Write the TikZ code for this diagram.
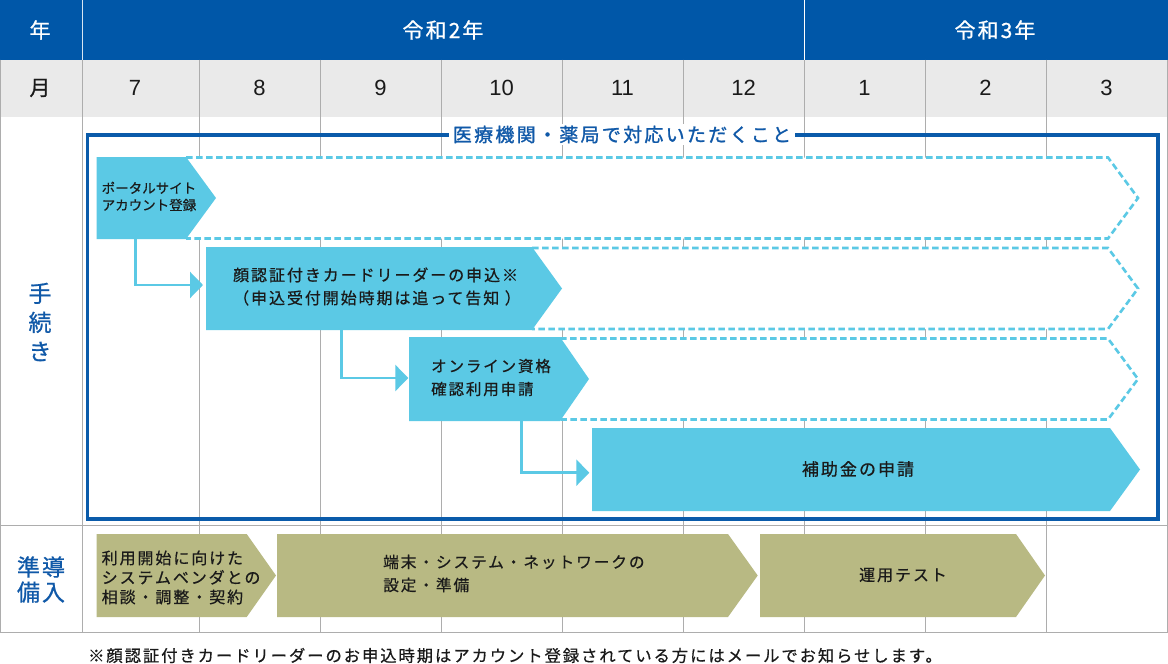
\documentclass[tikz,border=0pt]{standalone}
\usepackage{fontspec}
\setmainfont{Noto Sans CJK JP}[FakeBold=0.6]
\newfontfamily\jpls[LetterSpace=12,FakeBold=0.6]{Noto Sans CJK JP}
\newfontfamily\jphd[LetterSpace=10,FakeBold=0.8]{Noto Sans CJK JP}
\newfontfamily\jplbl[LetterSpace=12,FakeBold=1.2]{Noto Sans CJK JP}
\newfontfamily\arialf{Liberation Sans}
\usetikzlibrary{arrows.meta}
\definecolor{hdrblue}{HTML}{0057A8}
\definecolor{frameblue}{HTML}{0A5BAA}
\definecolor{cyanA}{HTML}{5BC9E5}
\definecolor{oliveA}{HTML}{B8B983}
\definecolor{monthgray}{HTML}{EAEAEA}
\definecolor{gridgray}{HTML}{ADADAD}
\definecolor{lblblue}{HTML}{1059A8}
\definecolor{txt}{HTML}{1A1A1A}
\begin{document}
\begin{tikzpicture}[x=1pt,y=-1pt,
  grid/.style={draw=gridgray,line width=1pt},
  solidarrow/.style={fill=cyanA},
  olivearrow/.style={fill=oliveA},
  dashline/.style={draw=cyanA,line width=2.6pt,dash pattern=on 6.5pt off 3.5pt},
  conn/.style={draw=cyanA,line width=2.5pt,-{Triangle[length=13pt,width=26pt]}},
  hdr/.style={text=white,inner sep=0pt,font=\jphd\fontsize{21}{24}\selectfont},
  month/.style={text=txt,inner sep=0pt,font=\arialf\fontsize{22}{24}\selectfont},
  side/.style={text=lblblue,inner sep=0pt,align=center},
  boxtxt/.style={text=txt,inner sep=0pt,align=left,anchor=west}
]
\useasboundingbox (0,0) rectangle (1168,664);
\fill[white] (0,0) rectangle (1168,664);
% header rows
\fill[hdrblue] (0,0) rectangle (1168,59.5);
\fill[monthgray] (0,59.5) rectangle (1168,117);
% grid
\foreach \x in {82,199,320,441,562,683,804,925,1046}
  \draw[grid] (\x,59.5) -- (\x,632);
\draw[grid] (0.5,59.5) -- (0.5,632);
\draw[grid] (1167.3,59.5) -- (1167.3,632);
\draw[grid] (0,525) -- (1168,525);
\draw[grid] (0,632) -- (1168,632);
\draw[white!85!hdrblue,line width=1pt] (82,0) -- (82,59.5);
\draw[white,line width=1pt] (804,0) -- (804,59.5);
% header texts
\node[hdr] (ynen) at (40,30) {年};
\node[hdr] (y2) at (443,30) {令和2年};
\node[hdr] (y3) at (995,30) {令和3年};
\node[text=txt,inner sep=0pt,font=\jphd\fontsize{21}{24}\selectfont] (mtsuki) at (40,88) {月};
\foreach \x/\m in {135/7,259.5/8,380.5/9,501.5/10,622.5/11,743.5/12,864.5/1,985.5/2,1106.5/3}
  \node[month] (m\m) at (\x,88) {\m};
% side labels
\node[side,font=\jphd\fontsize{23}{29}\selectfont] (tetsuzuki) at (40,322) {手\\続\\き};
\node[side,font=\jphd\fontsize{23}{25}\selectfont] (dounyu) at (41,579.5) {準\kern2pt導\\備\kern2pt入};
% frame
\draw[frameblue,line width=3.8pt] (87.5,135.3) rectangle (1158,519);
% dashed extensions
\fill[white] (186,157.5) -- (1108,157.5) -- (1138,198) -- (1108,238.5) -- (186,238.5) -- cycle;
\draw[dashline] (186,157.5) -- (1108,157.5) -- (1138,198) -- (1108,238.5) -- (186,238.5);
\fill[white] (532,248) -- (1108,248) -- (1138,288.5) -- (1108,329) -- (532,329) -- cycle;
\draw[dashline] (532,248) -- (1108,248) -- (1138,288.5) -- (1108,329) -- (532,329);
\fill[white] (560,338.5) -- (1108,338.5) -- (1138,379) -- (1108,419.5) -- (560,419.5) -- cycle;
\draw[dashline] (560,338.5) -- (1108,338.5) -- (1138,379) -- (1108,419.5) -- (560,419.5);
% solid arrows
\fill[solidarrow] (96.5,157) -- (186,157) -- (216,198) -- (186,239) -- (96.5,239) -- cycle;
\fill[solidarrow] (206,247) -- (532,247) -- (562,288.5) -- (532,330) -- (206,330) -- cycle;
\fill[solidarrow] (409,337) -- (560,337) -- (589,379) -- (560,421) -- (409,421) -- cycle;
\fill[solidarrow] (592,428) -- (1110,428) -- (1140,469.5) -- (1110,511) -- (592,511) -- cycle;
% olive arrows
\fill[olivearrow] (96.7,534) -- (246.7,534) -- (276,575.5) -- (246.7,617) -- (96.7,617) -- cycle;
\fill[olivearrow] (277,534) -- (728,534) -- (757.7,575.5) -- (728,617) -- (277,617) -- cycle;
\fill[olivearrow] (760,534) -- (1016,534) -- (1045,575.5) -- (1016,617) -- (760,617) -- cycle;
% connectors
\coordinate (c1s) at (135.7,239);
\coordinate (c1e) at (203,285);
\coordinate (c2s) at (341.7,330);
\coordinate (c2e) at (408.3,378);
\coordinate (c3s) at (521.7,421);
\coordinate (c3e) at (589.3,472.7);
\draw[conn] (c1s) |- (c1e);
\draw[conn] (c2s) |- (c2e);
\draw[conn] (c3s) |- (c3e);
% arrow texts
\node[boxtxt,font=\fontsize{13.5}{17}\selectfont] (portal) at (101.5,196.5) {ポータルサイト\\アカウント登録};
\node[boxtxt,font=\jpls\fontsize{16}{23}\selectfont] (card) at (233,286.5) {顔認証付きカードリーダーの申込※\\（申込受付開始時期は追って告知 ）};
\node[boxtxt,font=\jpls\fontsize{15.5}{23}\selectfont] (online) at (431,377.5) {オンライン資格\\確認利用申請};
\node[text=txt,inner sep=0pt,font=\jpls\fontsize{17}{20}\selectfont] (subsidy) at (858,469) {補助金の申請};
\node[boxtxt,font=\jpls\fontsize{16}{19.5}\selectfont] (vendor) at (101.5,577.5) {利用開始に向けた\\システムベンダとの\\相談・調整・契約};
\node[boxtxt,font=\jpls\fontsize{15.7}{23}\selectfont] (setup) at (383,573.5) {端末・システム・ネットワークの\\設定・準備};
\node[text=txt,inner sep=0pt,font=\jpls\fontsize{16}{20}\selectfont] (test) at (903,575) {運用テスト};
% frame label
\node[fill=white,text=lblblue,inner xsep=4pt,inner ysep=1.5pt,font=\jplbl\fontsize{19}{22}\selectfont] (framelbl) at (622,134.5) {医療機関・薬局で対応いただくこと};
% footnote
\node[boxtxt,font=\jpls\fontsize{16.3}{20}\selectfont] (foot) at (88,655.5) {※顔認証付きカードリーダーのお申込時期はアカウント登録されている方にはメールでお知らせします。};
\end{tikzpicture}
\end{document}
